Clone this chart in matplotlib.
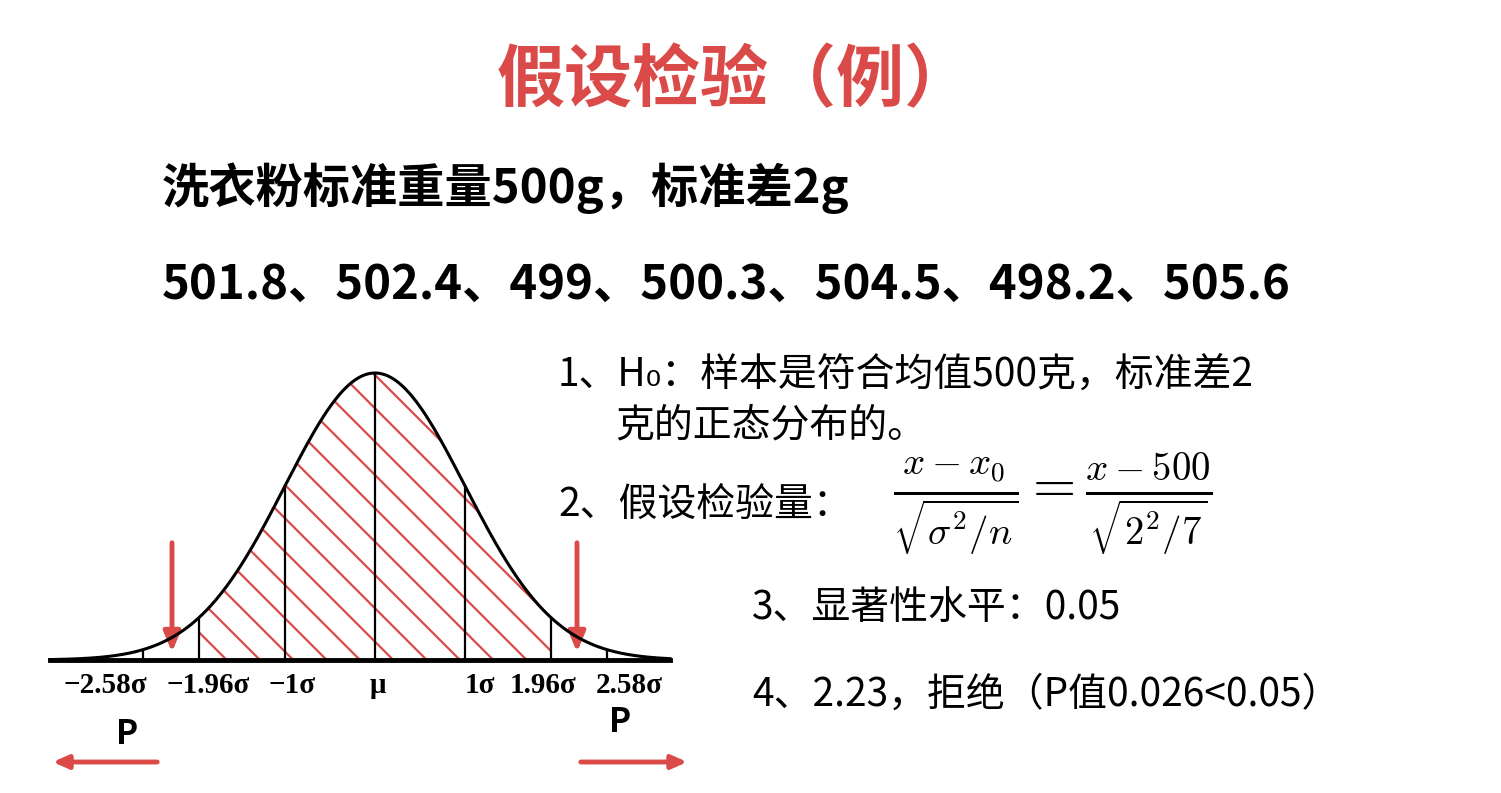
import numpy as np
import matplotlib
matplotlib.use("Agg")
import matplotlib.pyplot as plt

plt.rcParams['font.family'] = ['Noto Sans CJK SC', 'DejaVu Sans']
plt.rcParams['mathtext.fontset'] = 'cm'
plt.rcParams['hatch.color'] = '#d94a48'
plt.rcParams['hatch.linewidth'] = 1.6

RED = '#d94a48'
title = "假设检验（例）"
line1 = "洗衣粉标准重量500g，标准差2g"
samples = [501.8, 502.4, 499, 500.3, 504.5, 498.2, 505.6]
sig_lines = [-2.58, -1.96, -1, 0, 1, 1.96, 2.58]
tick_labels = ["−2.58σ", "−1.96σ", "−1σ", "μ", "1σ", "1.96σ", "2.58σ"]
tick_label_pos = [-3.0, -1.85, -0.92, 0.03, 1.17, 1.87, 2.83]
items = ["1、H₀：样本是符合均值500克，标准差2", "克的正态分布的。", "2、假设检验量：",
         "3、显著性水平：0.05", "4、2.23，拒绝（P值0.026<0.05）"]
formula = r"$\frac{x-x_0}{\sqrt{\sigma^2/n}}=\frac{x-500}{\sqrt{2^2/7}}$"

W, H = 1501, 793
fig = plt.figure(figsize=(W/100, H/100), dpi=100)
bg = fig.add_axes([0, 0, 1, 1])
bg.set_xlim(0, W); bg.set_ylim(H, 0); bg.axis('off')

bg.text(735, 82, title, color=RED, fontsize=49, fontweight='bold', ha='center', va='center')
bg.text(162, 188, line1, fontsize=34, fontweight='bold', va='center')
bg.text(162, 285, "、".join(f"{v:g}" for v in samples), fontsize=34, fontweight='bold', va='center')
bg.text(558, 375, items[0], fontsize=28, va='center')
bg.text(615, 425, items[1], fontsize=28, va='center')
bg.text(558, 505, items[2], fontsize=28, va='center')
bg.text(893, 505, formula, fontsize=40, va='center')
bg.text(752, 608, items[3], fontsize=28, va='center')
bg.text(752, 695, items[4], fontsize=28, va='center')

# curve axes: mu at 375px, sigma 90px, baseline 660px, peak 373px
x0, x1 = 50, 670
ax = fig.add_axes([x0/W, (H-660)/H, (x1-x0)/W, 287/H])
ax.set_xlim((x0-375)/90, (x1-375)/90); ax.set_ylim(0, 1)
ax.axis('off')
xs = np.linspace((x0-375)/90, (x1-375)/90, 600)
pdf = np.exp(-xs**2/2)
ax.plot(xs, pdf, color='black', lw=2.2, clip_on=False)
ax.axhline(0, color='black', lw=3.5, clip_on=False)
m = (xs >= -1.96) & (xs <= 1.96)
ax.fill_between(xs[m], 0, pdf[m], facecolor='none', edgecolor=RED, hatch='\\', lw=0)
for s in sig_lines:
    ax.plot([s, s], [0, np.exp(-s**2/2)], color='black', lw=1.6)
for lab, p in zip(tick_labels, tick_label_pos):
    ax.text(p, -0.09, lab, family='Liberation Serif', fontweight='bold', fontsize=21,
            ha='center', va='center', clip_on=False)

# arrows and P labels
for xa in (172, 577):
    bg.annotate('', xy=(xa, 655), xytext=(xa, 540),
                arrowprops=dict(arrowstyle='-|>,head_width=0.5,head_length=1.2', color=RED, lw=3.5))
bg.annotate('', xy=(50, 762), xytext=(160, 762),
            arrowprops=dict(arrowstyle='-|>,head_width=0.4,head_length=0.9', color=RED, lw=3.5))
bg.annotate('', xy=(690, 762), xytext=(578, 762),
            arrowprops=dict(arrowstyle='-|>,head_width=0.4,head_length=0.9', color=RED, lw=3.5))
bg.text(127, 735, "P", fontsize=24, fontweight='bold', ha='center', va='center')
bg.text(620, 722, "P", fontsize=24, fontweight='bold', ha='center', va='center')

fig.savefig("out.png", dpi=100, facecolor='white')
